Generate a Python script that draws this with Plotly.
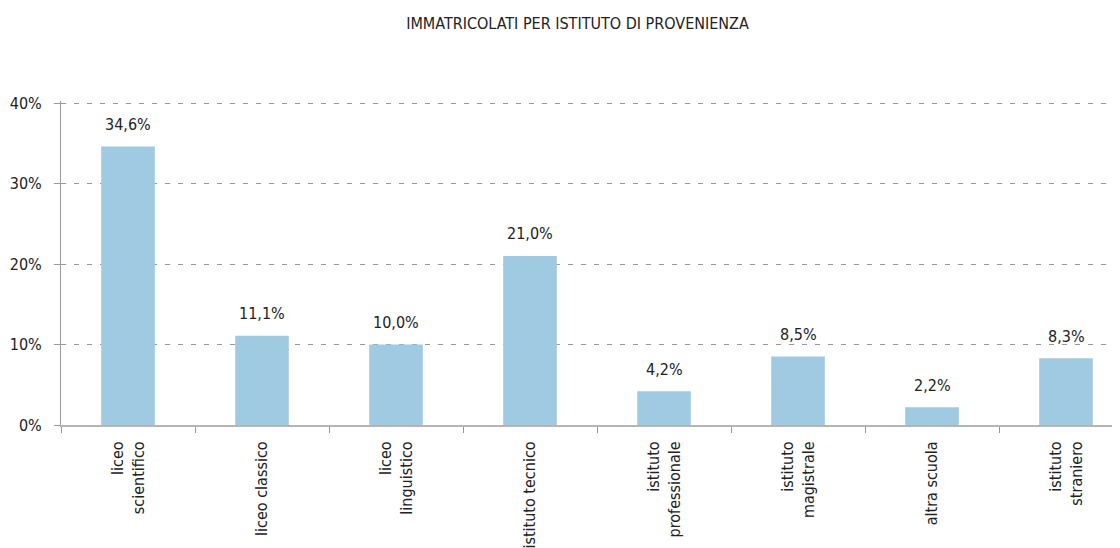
import plotly.graph_objects as go

categories = ["liceo<br>scientifico", "liceo classico", "liceo<br>linguistico", "istituto tecnico",
              "istituto<br>professionale", "istituto<br>magistrale", "altra scuola", "istituto<br>straniero"]
values = [34.6, 11.1, 10.0, 21.0, 4.2, 8.5, 2.2, 8.3]
y_ticks = [0, 10, 20, 30, 40]
y_tick_labels = ["0%", "10%", "20%", "30%", "40%"]
title = "IMMATRICOLATI PER ISTITUTO DI PROVENIENZA"

FONT = "Liberation Sans Narrow, DejaVu Sans Condensed, Arial Narrow, sans-serif"
labels = [f"{v:.1f}".replace(".", ",") + "%" for v in values]

# page body has an 8px default margin; figure sized so it ends at the window edge
W, H = 1112, 540

fig = go.Figure()
fig.add_trace(go.Bar(
    x=categories, y=values, width=0.4,
    marker=dict(color="#9fcae2", line=dict(width=0)),
    hoverinfo="skip",
))
for c, v, t in zip(categories, values, labels):
    fig.add_annotation(x=c, y=v, text=t, showarrow=False, yshift=22,
                       font=dict(family=FONT, size=16, color="#222"))

fig.update_layout(
    width=W, height=H,
    margin=dict(l=53, r=0, t=93, b=123, autoexpand=False),
    paper_bgcolor="white", plot_bgcolor="white",
    showlegend=False,
    font=dict(family=FONT, size=16, color="#222"),
    title=dict(text=title, x=569.5/W, xref="container", xanchor="center",
               y=1-15/H, yref="container", yanchor="middle",
               font=dict(family=FONT, size=16, color="#222")),
    bargap=0.6,
)
fig.update_xaxes(
    type="category", range=[-0.5, 7.5 - 13/134], automargin=False,
    tickson="boundaries", ticks="outside", ticklen=6, tickcolor="#999", tickwidth=1,
    tickangle=-90, showgrid=False, ticklabelstandoff=8,
    showline=True, linecolor="rgba(120,120,120,0.55)", linewidth=2,
    tickfont=dict(family=FONT, size=16, color="#222"),
)
fig.update_yaxes(
    range=[0, 40.25], tickvals=y_ticks, ticktext=y_tick_labels, automargin=False,
    ticks="outside", ticklen=6, tickcolor="#999", ticklabelstandoff=9,
    showgrid=True, gridcolor="#999", griddash="5px,8px", gridwidth=1,
    showline=True, linecolor="#999", linewidth=1,
    zeroline=False,
    tickfont=dict(family=FONT, size=16, color="#222"),
)
fig.write_html("out.html")
